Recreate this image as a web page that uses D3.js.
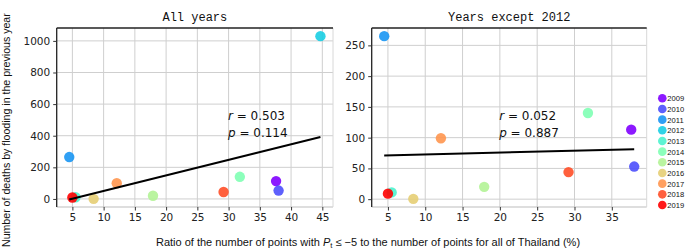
<!DOCTYPE html>
<html>
<head>
<meta charset="utf-8">
<script src="https://cdn.jsdelivr.net/npm/d3@7"></script>
<style>
  body { margin: 0; background: #fff; }
  svg { display: block; }
</style>
</head>
<body>
<svg id="chart" width="685" height="249"></svg>
<script>
// DATA
const years = [2009, 2010, 2011, 2012, 2013, 2014, 2015, 2016, 2017, 2018, 2019];
const ratio = [37.6, 38.0, 4.5, 44.7, 5.5, 31.8, 17.9, 8.4, 12.1, 29.2, 5.0];
const deaths = [113, 53, 265, 1030, 11, 140, 20, 0.5, 99, 44, 9];
const xTicksAll = [5, 10, 15, 20, 25, 30, 35, 40, 45];
const yTicksAll = [0, 200, 400, 600, 800, 1000];
const xTicksEx = [5, 10, 15, 20, 25, 30, 35];
const yTicksEx = [0, 50, 100, 150, 200, 250];
const statsAll = ["0.503", "0.114"];
const statsEx = ["0.052", "0.887"];

const svg = d3.select("#chart");

// matplotlib "rainbow" colormap
const rainbow = (t) =>
  d3.rgb(
    255 * Math.min(1, Math.abs(2 * t - 0.5)),
    255 * Math.sin(Math.PI * t),
    255 * Math.cos((Math.PI / 2) * t)
  ).formatHex();
const color = d3
  .scaleOrdinal()
  .domain(years)
  .range(years.map((d, i) => rainbow(i / (years.length - 1))));

const points = years.map((y, i) => ({ year: y, x: ratio[i], y: deaths[i] }));

function padded(vals) {
  const [a, b] = d3.extent(vals);
  const m = (b - a) * 0.05;
  return [a - m, b + m];
}

function panel(opts) {
  const { data, left, right, top, bottom, xTicks, yTicks, title, stats, statPos } = opts;
  const x = d3.scaleLinear().domain(padded(data.map((d) => d.x))).range([left, right]);
  const y = d3.scaleLinear().domain(padded(data.map((d) => d.y))).range([bottom, top]);

  const g = svg.append("g");

  // grid
  g.append("g")
    .selectAll("line")
    .data(xTicks)
    .join("line")
    .attr("x1", (d) => x(d))
    .attr("x2", (d) => x(d))
    .attr("y1", top)
    .attr("y2", bottom)
    .attr("stroke", "#cfcfcf")
    .attr("stroke-width", 1);
  g.append("g")
    .selectAll("line")
    .data(yTicks)
    .join("line")
    .attr("x1", left)
    .attr("x2", right)
    .attr("y1", (d) => y(d))
    .attr("y2", (d) => y(d))
    .attr("stroke", "#cfcfcf")
    .attr("stroke-width", 1);

  // frame
  g.append("line").attr("x1", left).attr("x2", right).attr("y1", bottom).attr("y2", bottom)
    .attr("stroke", "#bdbdbd");
  g.append("line").attr("x1", right).attr("x2", right).attr("y1", top).attr("y2", bottom)
    .attr("stroke", "#d8d8d8");
  g.append("line").attr("x1", left).attr("x2", right).attr("y1", top).attr("y2", top)
    .attr("stroke", "#222").attr("stroke-width", 1.3);
  g.append("line").attr("x1", left).attr("x2", left).attr("y1", top).attr("y2", bottom)
    .attr("stroke", "#222").attr("stroke-width", 1.3);

  // axes
  const gx = g.append("g")
    .attr("transform", `translate(0,${bottom})`)
    .call(d3.axisBottom(x).tickValues(xTicks).tickSize(3.5).tickPadding(3));
  const gy = g.append("g")
    .attr("transform", `translate(${left},0)`)
    .call(d3.axisLeft(y).tickValues(yTicks).tickSize(3.5).tickPadding(3).tickFormat(d3.format("d")));
  [gx, gy].forEach((a) => {
    a.select(".domain").remove();
    a.selectAll("line").attr("stroke", "#333");
    a.selectAll("text")
      .attr("fill", "#222")
      .style("font-family", "DejaVu Sans")
      .style("font-size", "10.5px");
  });

  // regression line
  const mx = d3.mean(data, (d) => d.x), my = d3.mean(data, (d) => d.y);
  const slope =
    d3.sum(data, (d) => (d.x - mx) * (d.y - my)) / d3.sum(data, (d) => (d.x - mx) ** 2);
  const x0 = d3.min(data, (d) => d.x), x1 = d3.max(data, (d) => d.x);
  const fit = (v) => my + slope * (v - mx);

  // points
  g.append("g")
    .selectAll("circle")
    .data(data)
    .join("circle")
    .attr("cx", (d) => x(d.x))
    .attr("cy", (d) => y(d.y))
    .attr("r", 5.2)
    .attr("fill", (d) => color(d.year))
    .attr("opacity", 0.9);

  g.append("line")
    .attr("x1", x(x0)).attr("y1", y(fit(x0)))
    .attr("x2", x(x1)).attr("y2", y(fit(x1)))
    .attr("stroke", "#000")
    .attr("stroke-width", 2);

  // r / p annotation
  const ann = g.append("text")
    .attr("x", x(statPos[0]))
    .attr("y", y(statPos[1]))
    .style("font-family", "DejaVu Sans")
    .style("font-size", "12px")
    .attr("fill", "#111");
  ann.append("tspan").attr("font-style", "italic").text("r");
  ann.append("tspan").text(` = ${stats[0]}`);
  const ann2 = g.append("text")
    .attr("x", x(statPos[0]))
    .attr("y", y(statPos[1]) + 17)
    .style("font-family", "DejaVu Sans")
    .style("font-size", "12px")
    .attr("fill", "#111");
  ann2.append("tspan").attr("font-style", "italic").text("p");
  ann2.append("tspan").text(` = ${stats[1]}`);

  // title
  g.append("text")
    .attr("x", (left + right) / 2)
    .attr("y", 21)
    .attr("text-anchor", "middle")
    .style("font-family", "Liberation Mono")
    .style("font-size", "12px")
    .attr("fill", "#111")
    .text(title);
}

panel({
  data: points,
  left: 56.7, right: 333, top: 28, bottom: 207,
  xTicks: xTicksAll, yTicks: yTicksAll,
  title: "All years", stats: statsAll, statPos: [29.9, 500],
});

panel({
  data: points.filter((d) => d.year !== 2012),
  left: 371.7, right: 646.7, top: 28, bottom: 207,
  xTicks: xTicksEx, yTicks: yTicksEx,
  title: "Years except 2012", stats: statsEx, statPos: [19.9, 129],
});

// legend
const legend = svg.append("g").attr("transform", "translate(662.3,98.3)");
const li = legend.selectAll("g").data(years).join("g")
  .attr("transform", (d, i) => `translate(0,${i * 10.67})`);
li.append("circle").attr("r", 4.3).attr("fill", (d) => color(d)).attr("opacity", 0.9);
li.append("text")
  .attr("x", 5)
  .attr("y", 3)
  .style("font-family", "Liberation Sans")
  .style("font-size", "7.6px")
  .attr("fill", "#111")
  .text((d) => d);

// axis titles
svg.append("text")
  .attr("transform", "translate(9.5,247) rotate(-90)")
  .style("font-family", "Liberation Sans")
  .style("font-size", "10.6px")
  .attr("fill", "#111")
  .text("Number of deaths by flooding in the previous year");

const xl = svg.append("text")
  .attr("x", 368)
  .attr("y", 246)
  .attr("text-anchor", "middle")
  .style("font-family", "Liberation Sans")
  .style("font-size", "11px")
  .attr("fill", "#111");
xl.append("tspan").text("Ratio of the number of points with ");
xl.append("tspan").attr("font-style", "italic").text("P");
xl.append("tspan").attr("font-size", "7.8px").attr("dy", 2).text("t");
xl.append("tspan").attr("dy", -2).text(" \u2264 \u22125 to the number of points for all of Thailand (%)");
</script>
</body>
</html>
